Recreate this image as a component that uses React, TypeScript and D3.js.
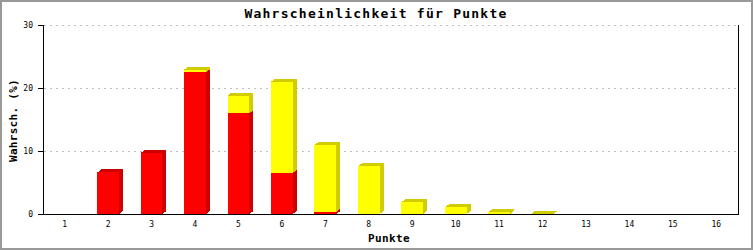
import React from "react";
import * as d3 from "d3";

const categories = ["1","2","3","4","5","6","7","8","9","10","11","12","13","14","15","16"];
const redValues = [0, 6.6, 9.7, 22.5, 16.0, 6.5, 0.35, 0, 0, 0, 0, 0, 0, 0, 0, 0];
const yellowValues = [0, 0, 0, 0.42, 2.8, 14.5, 10.6, 7.55, 1.85, 1.05, 0.3, 0.07, 0, 0, 0, 0];
const yTicks = [0, 10, 20, 30];
const title = "Wahrscheinlichkeit für Punkte";
const yTitle = "Wahrsch. (%)";
const xTitle = "Punkte";

const W = 753, H = 250;
const left = 43, right = 738, top = 25, bottom = 214;
const DX = 4, DY = 3;
const mono = "'DejaVu Sans Mono', 'Liberation Mono', monospace";

const series = [
  { values: redValues, front: "#ff0000", dark: "#cc0000" },
  { values: yellowValues, front: "#ffff00", dark: "#d0cc00" },
];

export default function App() {
  const x = d3.scaleBand<string>().domain(categories).range([left, right]);
  const y = d3.scaleLinear().domain([0, 30]).range([bottom, top]);
  const bw = x.bandwidth() * 0.5;

  const bars: React.ReactNode[] = [];
  categories.forEach((c, i) => {
    const x0 = (x(c) as number) + (x.bandwidth() - bw) / 2;
    const x1 = x0 + bw;
    let base = 0;
    const segs: { y0: number; y1: number; s: typeof series[0] }[] = [];
    series.forEach((s) => {
      const v = s.values[i];
      if (v > 0) {
        segs.push({ y0: base, y1: base + v, s });
        base += v;
      }
    });
    segs.forEach((seg, k) => {
      const yb = y(seg.y0);
      const yt = y(seg.y1);
      const isTop = k === segs.length - 1;
      bars.push(
        <g key={`${c}-${k}`}>
          <rect x={x0} y={yt} width={bw} height={Math.max(0, yb - yt)} fill={seg.s.front} />
          <polygon
            points={`${x1},${yt} ${x1 + DX},${yt - DY} ${x1 + DX},${yb - DY} ${x1},${yb}`}
            fill={seg.s.dark}
          />
          {isTop && (
            <polygon
              points={`${x0},${yt} ${x0 + DX},${yt - DY} ${x1 + DX},${yt - DY} ${x1},${yt}`}
              fill={seg.s.dark}
            />
          )}
        </g>
      );
    });
  });

  return (
    <svg width={W} height={H} style={{ position: "absolute", left: 0, top: 0 }} shapeRendering="crispEdges">
      <rect x={0} y={0} width={W} height={H} fill="#ffffff" />
      <rect x={1} y={1} width={W - 2} height={H - 2} fill="none" stroke="#999999" strokeWidth={2} />
      {/* grid */}
      {yTicks.filter((t) => t > 0).map((t) => (
        <line key={t} x1={left + 1} x2={right - 1} y1={Math.round(y(t)) + 0.5} y2={Math.round(y(t)) + 0.5}
          stroke="#c0c0c0" strokeDasharray="2,4" />
      ))}
      {bars}
      {/* axes */}
      <line x1={left + 0.5} x2={left + 0.5} y1={top} y2={bottom + 1} stroke="#000" />
      <line x1={right + 0.5} x2={right + 0.5} y1={top} y2={bottom + 1} stroke="#000" />
      <line x1={left} x2={right + 1} y1={bottom + 0.5} y2={bottom + 0.5} stroke="#000" />
      {yTicks.map((t) => (
        <g key={t}>
          <line x1={left - 5} x2={left} y1={Math.round(y(t)) + 0.5} y2={Math.round(y(t)) + 0.5} stroke="#000" />
          <text x={33} y={y(t) + 3} textAnchor="end" fontFamily={mono} fontSize={8} fill="#000">{t}</text>
        </g>
      ))}
      {categories.map((c) => (
        <text key={c} x={(x(c) as number) + x.bandwidth() / 2} y={227} textAnchor="middle"
          fontFamily={mono} fontSize={8} fill="#000">{c}</text>
      ))}
      <text x={376} y={18} textAnchor="middle" fontFamily={mono} fontWeight="bold" fontSize={13}
        letterSpacing={1.25} fill="#000">{title}</text>
      <text transform={`translate(17,${(top + bottom) / 2 + 1}) rotate(-90)`} textAnchor="middle"
        fontFamily={mono} fontWeight="bold" fontSize={11} letterSpacing={0.3} fill="#000">{yTitle}</text>
      <text x={389} y={242} textAnchor="middle" fontFamily={mono} fontWeight="bold" fontSize={11}
        letterSpacing={0.4} fill="#000">{xTitle}</text>
    </svg>
  );
}
